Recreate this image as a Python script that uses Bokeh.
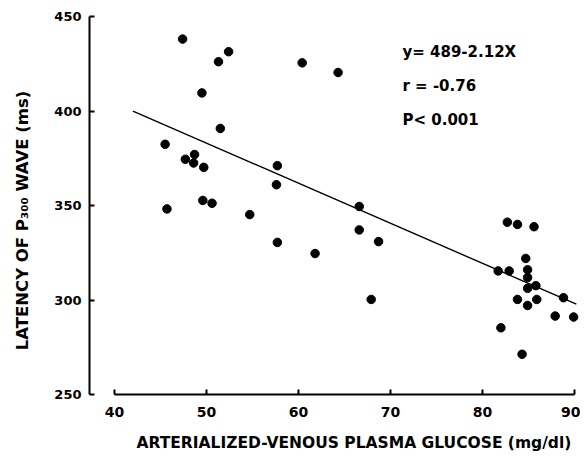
from math import pi
from bokeh.plotting import figure
from bokeh.models import Label, FixedTicker, Range1d
from bokeh.embed import file_html
from bokeh.resources import INLINE

# Data
glucose = [47.4, 52.4, 51.3, 60.4, 64.3, 49.5, 51.5, 45.5, 48.7, 47.7, 48.6,
           49.7, 57.7, 57.6, 45.7, 49.6, 50.6, 54.7, 57.7, 61.8, 66.6, 66.6,
           68.7, 67.9, 82.7, 83.8, 85.6, 84.7, 81.7, 82.9, 84.9, 84.9, 85.8,
           84.9, 83.8, 85.9, 84.9, 88.8, 87.9, 89.9, 82.0, 84.3]
latency = [438.1, 431.4, 426.1, 425.5, 420.4, 409.6, 390.8, 382.4, 377.0,
           374.5, 372.5, 370.2, 371.1, 361.0, 348.2, 352.7, 351.2, 345.2,
           330.5, 324.6, 349.5, 337.1, 330.9, 300.3, 341.2, 340.0, 338.8,
           322.0, 315.4, 315.4, 316.0, 311.9, 307.6, 306.2, 300.3, 300.3,
           297.1, 301.2, 291.5, 291.0, 285.3, 271.3]

fit_intercept = 489.0
fit_slope = -2.12
fit_x = [42.0, 90.2]
fit_y = [fit_intercept + fit_slope * v for v in fit_x]

x_ticks = [40, 50, 60, 70, 80, 90]
y_ticks = [250, 300, 350, 400, 450]

stats_lines = ["y= 489-2.12X", "r = -0.76", "P< 0.001"]
x_title = "ARTERIALIZED-VENOUS PLASMA GLUCOSE (mg/dl)"
y_title = "LATENCY OF P\u2083\u2080\u2080 WAVE  (ms)"

FONT = "DejaVu Sans"
NBSP = "\u00a0"

p = figure(width=580, height=456,
           x_range=Range1d(37.28, 90.65), y_range=Range1d(250, 458.5),
           output_backend="svg", toolbar_location=None,
           min_border_left=89, min_border_right=0,
           min_border_top=0, min_border_bottom=62)
p.outline_line_color = None
p.xgrid.visible = False
p.ygrid.visible = False
p.background_fill_color = "white"
p.border_fill_color = "white"

for ax, ticks, bounds in ((p.xaxis[0], x_ticks, (40, 90)), (p.yaxis[0], y_ticks, (250, 450))):
    ax.ticker = FixedTicker(ticks=ticks)
    ax.bounds = bounds
    ax.axis_line_width = 2
    ax.axis_line_color = "black"
    ax.major_tick_in = 5
    ax.major_tick_out = 0
    ax.major_tick_line_width = 2
    ax.major_tick_line_color = "black"
    ax.minor_tick_line_color = None
    ax.major_label_text_font = FONT
    ax.major_label_text_font_style = "bold"
    ax.major_label_text_color = "black"
    ax.axis_label_text_font = FONT
    ax.axis_label_text_font_style = "bold"
    ax.axis_label_text_color = "black"

p.xaxis.major_label_text_font_size = "14px"
p.yaxis.major_label_text_font_size = "13px"
p.xaxis.major_label_standoff = 12
p.yaxis.major_label_standoff = 8

# axis titles, nudged along the axis with no-break spaces
p.xaxis.axis_label = NBSP * 7 + x_title
p.xaxis.axis_label_standoff = 14
p.xaxis.axis_label_text_font_size = "15.5px"

p.yaxis.axis_label = y_title + NBSP * 7
p.yaxis.axis_label_standoff = 19
p.yaxis.axis_label_text_font_size = "16.5px"

p.line(fit_x, fit_y, line_width=1.4, line_color="black")
p.scatter(glucose, latency, size=8.5, fill_color="black", line_color="black")

for txt, yy in zip(stats_lines, [431.0, 413.5, 395.0]):
    p.add_layout(Label(x=71.3, y=yy, text=txt, text_font=FONT,
                       text_font_style="bold", text_font_size="15px",
                       text_align="left", text_baseline="middle",
                       text_color="black"))

open("out.html", "w").write(file_html(p, INLINE))
